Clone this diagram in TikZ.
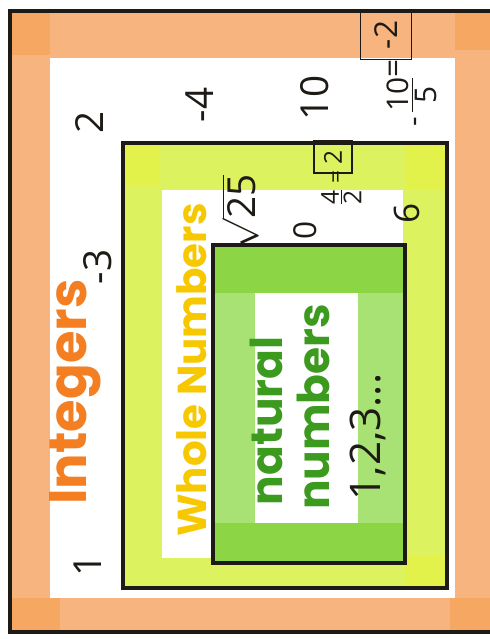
\documentclass[tikz,border=0pt]{standalone}
\usepackage{fontspec}
\setmainfont{Open Sans}
\newfontfamily\bubble{Poppins}
\definecolor{orngband}{HTML}{F8B47E}
\definecolor{orngdark}{HTML}{F6A862}
\definecolor{orngtext}{HTML}{F47E22}
\definecolor{limeband}{HTML}{DCF25E}
\definecolor{limedark}{HTML}{E2F24A}
\definecolor{yellowtext}{HTML}{F7C800}
\definecolor{grnband}{HTML}{8CD645}
\definecolor{grnlight}{HTML}{A8E274}
\definecolor{grntext}{HTML}{3C9A1E}
\definecolor{ink}{HTML}{1E1A16}
\newcommand{\handfrac}[2]{\begin{tabular}{@{}c@{}}#1\\[-3pt]\hline\noalign{\vskip1pt}#2\end{tabular}}

\begin{document}
\begin{tikzpicture}[x=0.02cm, y=-0.02cm,
		num/.style={rotate=90, text=ink, inner sep=1pt, font=\fontsize{22}{22}\selectfont},
		lbl/.style={rotate=90, inner sep=0pt, font=\bubble\bfseries\fontsize{25}{25}\selectfont},
		frame/.style={draw=ink, line width=2.2pt}]
	\useasboundingbox (0,0) rectangle (490,639);
	% integers
	\fill[orngband] (10,11) rectangle (490,632);
	\fill[orngdark] (12,13) rectangle (50,55);
	\fill[orngdark] (12,598) rectangle (60,632);
	\fill[orngdark] (450,598) rectangle (490,632);
	\fill[orngdark] (455,13) rectangle (490,50);
	\fill[white] (50,58) rectangle (455,598);
	\draw[frame] (495,11) -- (10,11) -- (10,632) -- (495,632);
	% whole numbers
	\fill[limeband] (123,143) rectangle (447,588);
	\fill[limedark] (125,145) rectangle (160,185);
	\fill[limedark] (405,145) rectangle (445,190);
	\fill[limedark] (405,555) rectangle (445,586);
	\fill[white] (162,190) rectangle (403,558);
	\draw[frame] (123,143) rectangle (447,588);
	% natural numbers
	\fill[grnlight] (213,245) rectangle (405,563);
	\fill[grnband] (213,245) rectangle (405,293);
	\fill[grnband] (213,523) rectangle (405,563);
	\fill[white] (255,293) rectangle (358,523);
	\draw[frame] (213,245) rectangle (405,563);

	\node[lbl, text=orngtext, font=\bubble\bfseries\fontsize{30}{30}\selectfont] (int) at (75,392) {Integers};
	\node[lbl, text=yellowtext, font=\bubble\bfseries\fontsize{23}{23}\selectfont] (whole) at (192,370) {Whole Numbers};
	\node[lbl, text=grntext] (nat1) at (266,421) {natural};
	\node[lbl, text=grntext] (nat2) at (313,407) {numbers};

	\node[num] (i1) at (88,565) {1};
	\node[num] (i2) at (98,267) {-3};
	\node[num] (i3) at (90,122) {2};
	\node[num] (i4) at (200,105) {-4};
	\node[num] (i5) at (315,98) {10};
	\node[num, font=\fontsize{17}{17}\selectfont] (i6) at (416,102) {-\,\handfrac{10}{5}};
	\node[num, font=\fontsize{18}{18}\selectfont] (i7) at (397,68) {=};
	\node[num, draw=ink, line width=1pt, minimum width=28pt, minimum height=29pt, font=\fontsize{18}{18}\selectfont] (i8) at (386,35) {-2};

	\node[num] (w1) at (240,212) {$\sqrt{\mbox{25}}$};
	\node[num, font=\fontsize{18}{18}\selectfont] (w2) at (305,230) {0};
	\node[num, font=\fontsize{14}{14}\selectfont] (w3) at (345,197) {\handfrac{4}{2}};
	\node[num, font=\fontsize{13}{13}\selectfont] (w4) at (338,177) {=};
	\node[num, draw=ink, line width=1pt, minimum width=18pt, minimum height=22pt, font=\fontsize{14}{14}\selectfont] (w5) at (333,157) {2};
	\node[num, font=\fontsize{20}{20}\selectfont] (w6) at (407,213) {6};

	\node[num, font=\fontsize{24}{24}\selectfont] (n1) at (368,437) {1,2,3...};
\end{tikzpicture}
\end{document}
